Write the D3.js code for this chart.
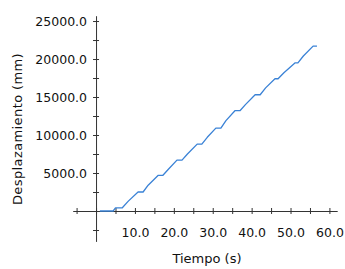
<!DOCTYPE html>
<html>
<head>
<meta charset="utf-8">
<script src="https://cdn.jsdelivr.net/npm/d3@7"></script>
<style>
  body { margin: 0; background: #fff; }
  svg { display: block; font-family: "DejaVu Sans", sans-serif; }
</style>
</head>
<body>
<svg width="345" height="269"></svg>
<script>
// tiempo (s) y desplazamiento (mm)
const tiempo = [1.0, 4.4, 5.0, 6.7, 8.3, 10.8, 12.1, 13.4, 16.0, 17.2, 18.6, 20.8, 22.1, 23.5, 26.0,
  27.2, 28.6, 30.8, 32.1, 33.4, 35.7, 37.0, 38.4, 40.9, 42.2, 43.6, 46.0, 46.8, 48.3, 51.2,
  51.9, 53.3, 55.8, 56.8];
const desplazamiento = [0, 0, 400, 400, 1300, 2500, 2500, 3400, 4700, 4700, 5500, 6700, 6700, 7500, 8800,
  8800, 9700, 10900, 10900, 11900, 13200, 13200, 14000, 15300, 15300, 16200, 17400, 17400, 18200, 19500,
  19500, 20400, 21700, 21700];
const xTicks = [-5, 0, 5, 10, 15, 20, 25, 30, 35, 40, 45, 50, 55, 60];
const xLabels = [10, 20, 30, 40, 50, 60];
const yTicks = [-2500, 0, 2500, 5000, 7500, 10000, 12500, 15000, 17500, 20000, 22500, 25000];
const yLabels = [5000, 10000, 15000, 20000, 25000];

const svg = d3.select("svg");
const axisColor = "#333";

const x = d3.scaleLinear().domain([-6, 62]).range([72.7, 337.2]);
const y = d3.scaleLinear().domain([-4000, 25700]).range([241.4, 15.7]);

const fmt = d3.format(".1f");

const xAxis = d3.axisBottom(x)
  .tickValues(xTicks)
  .tickSizeInner(3)
  .tickSizeOuter(0)
  .tickPadding(14)
  .tickFormat(d => xLabels.includes(d) ? fmt(d) : "");

const yAxis = d3.axisLeft(y)
  .tickValues(yTicks)
  .tickSizeInner(3)
  .tickSizeOuter(0)
  .tickPadding(6)
  .tickFormat(d => yLabels.includes(d) ? fmt(d) : "");

const gx = svg.append("g")
  .attr("transform", "translate(0," + y(0) + ")")
  .call(xAxis);
gx.selectAll(".tick line").attr("y1", -3).attr("y2", 3);

const gy = svg.append("g")
  .attr("transform", "translate(" + x(0) + ",0)")
  .call(yAxis);
gy.selectAll(".tick line").attr("x1", -3).attr("x2", 3);

svg.selectAll(".domain, .tick line").attr("stroke", axisColor).attr("stroke-width", 1);
svg.selectAll(".tick text")
  .attr("fill", "#111")
  .style("font-size", "12.5px")
  .style("font-family", "DejaVu Sans, sans-serif");

// la linea
const data = tiempo.map((t, i) => [t, desplazamiento[i]]);
const line = d3.line().x(d => x(d[0])).y(d => y(d[1]));
svg.append("path")
  .datum(data)
  .attr("fill", "none")
  .attr("stroke", "#3a82d6")
  .attr("stroke-width", 1.3)
  .attr("stroke-linejoin", "round")
  .attr("d", line);

// titulos
svg.append("text")
  .attr("x", 207)
  .attr("y", 263)
  .attr("text-anchor", "middle")
  .attr("fill", "#111")
  .style("font-size", "13px")
  .text("Tiempo (s)");

svg.append("text")
  .attr("transform", "translate(22,129) rotate(-90)")
  .attr("text-anchor", "middle")
  .attr("fill", "#111")
  .style("font-size", "13px")
  .style("letter-spacing", "0.4px")
  .text("Desplazamiento (mm)");
</script>
</body>
</html>
